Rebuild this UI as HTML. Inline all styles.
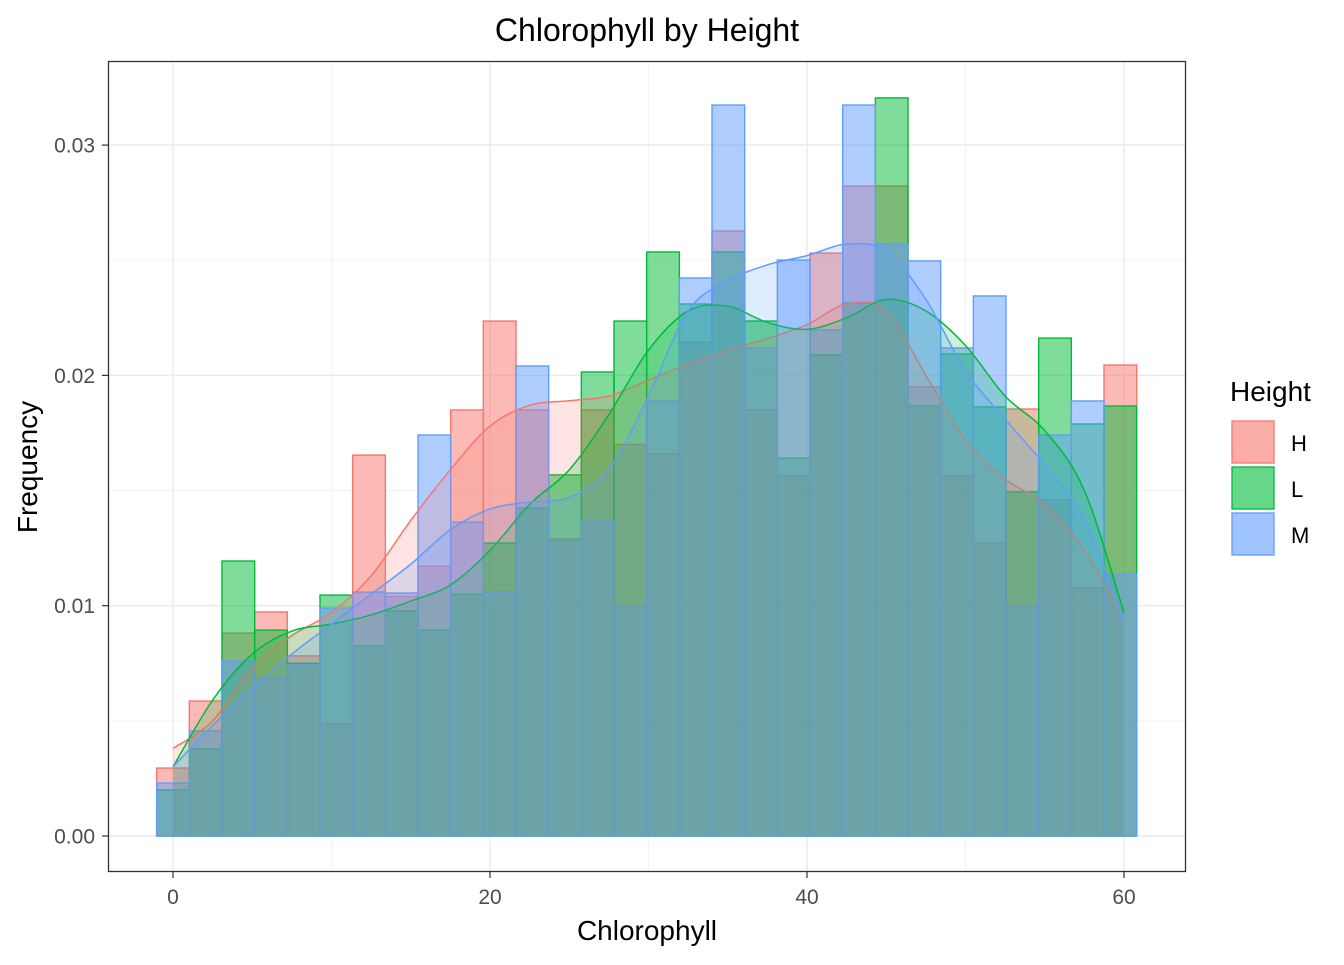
<!DOCTYPE html>
<html><head><meta charset="utf-8"><style>
body{margin:0;background:#fff;}
svg text{font-family:"Liberation Sans",Arial,sans-serif;}
</style></head><body>
<svg id="chart" width="1344" height="960" xmlns="http://www.w3.org/2000/svg">
<rect width="1344" height="960" fill="#fff"/>
<text x="647" y="41" font-size="32" text-anchor="middle" fill="#000">Chlorophyll by Height</text>
<g id="grid"></g>
<g id="bars"></g>
<g id="dens"></g>
<rect x="108.5" y="61.5" width="1077" height="810" fill="none" stroke="#333" stroke-width="1.3"/>
<g id="axes"></g>
<text x="647" y="940" font-size="28" text-anchor="middle" fill="#000">Chlorophyll</text>
<text transform="translate(37,467) rotate(-90)" font-size="28" text-anchor="middle" fill="#000">Frequency</text>
<g>
<text x="1230" y="401" font-size="28" fill="#000">Height</text>
<g><rect x="1232" y="421" width="42" height="42" fill="#F8766D" fill-opacity="0.6" stroke="#F8766D" stroke-width="1.3"/><text x="1291" y="451" font-size="22" fill="#000">H</text></g>
<g><rect x="1232" y="467" width="42" height="42" fill="#00BA38" fill-opacity="0.6" stroke="#00BA38" stroke-width="1.3"/><text x="1291" y="497" font-size="22" fill="#000">L</text></g>
<g><rect x="1232" y="513" width="42" height="42" fill="#619CFF" fill-opacity="0.6" stroke="#619CFF" stroke-width="1.3"/><text x="1291" y="543" font-size="22" fill="#000">M</text></g>
</g>
</svg>
<script>
const groups = ["H","L","M"];
const binStart = -1.03;
const binWidth = 2.061;
const histH = [0.00295,0.00586,0.00881,0.00973,0.00782,0.00486,0.01654,0.0104,0.01172,0.0185,0.02236,0.0185,0.0129,0.0185,0.017,0.01659,0.02145,0.02627,0.0185,0.01563,0.02531,0.02822,0.02822,0.0195,0.01563,0.01272,0.01854,0.01459,0.01077,0.02045];
const histL = [0.0020,0.00378,0.01194,0.00894,0.0075,0.01046,0.00825,0.00977,0.00894,0.0105,0.01272,0.01424,0.01568,0.02015,0.02236,0.02536,0.0231,0.02536,0.02236,0.01641,0.02089,0.02314,0.03205,0.01867,0.02093,0.01863,0.01494,0.02162,0.01789,0.01867];
const histM = [0.0023,0.00456,0.0076,0.00686,0.00743,0.0099,0.01059,0.01055,0.01741,0.01363,0.0106,0.02041,0.0128,0.01368,0.00994,0.01889,0.02423,0.03174,0.02119,0.02501,0.02197,0.03174,0.0257,0.02497,0.02119,0.02345,0.00994,0.01741,0.01889,0.01138];
const densX = [0,2.5,5,7.5,10,12.5,15,17.5,20,22.5,25,27.5,30,32.5,35,37.5,40,42.5,45,47.5,50,52.5,55,57.5,60];
const densH = [0.0038,0.0050,0.0073,0.0087,0.0097,0.0113,0.0137,0.0159,0.0178,0.0187,0.0189,0.0191,0.0198,0.0205,0.0211,0.0216,0.0222,0.0231,0.0228,0.0200,0.0172,0.0155,0.0144,0.0124,0.0094];
const densL = [0.0030,0.0059,0.0079,0.0089,0.0092,0.0096,0.0102,0.0109,0.0124,0.0144,0.0159,0.0183,0.0211,0.0228,0.0230,0.0223,0.0220,0.0225,0.0233,0.0228,0.0213,0.0191,0.0176,0.0150,0.0097];
const densM = [0.0030,0.0048,0.0064,0.0079,0.0092,0.0105,0.0118,0.0133,0.0142,0.0145,0.0147,0.0159,0.0191,0.0228,0.0241,0.0248,0.0252,0.0257,0.0254,0.0233,0.0202,0.0181,0.0161,0.0137,0.0093];
const xTicks = [0,20,40,60];
const yTicks = [0,0.01,0.02,0.03];
const yTickLabels = ["0.00","0.01","0.02","0.03"];
const colors = {H:"#F8766D",L:"#00BA38",M:"#619CFF"};

const NS="http://www.w3.org/2000/svg";
function sx(v){return 173+(v)*15.85;}
function sy(v){return 836-v*23030;}
function mk(tag,attrs,parent){const e=document.createElementNS(NS,tag);for(const k in attrs)e.setAttribute(k,attrs[k]);parent.appendChild(e);return e;}
const grid=document.getElementById('grid'),bars=document.getElementById('bars'),dens=document.getElementById('dens'),axes=document.getElementById('axes');
mk('rect',{x:108,y:61,width:1078,height:811,fill:'#fff'},grid);
for(let i=0;i<xTicks.length-1;i++){const v=(xTicks[i]+xTicks[i+1])/2;const l=mk('line',{x1:sx(v),x2:sx(v),y1:61,y2:872,stroke:'#f0f0f0','stroke-width':0.8},grid);}
for(let i=0;i<yTicks.length-1;i++){const v=(yTicks[i]+yTicks[i+1])/2;const l=mk('line',{x1:108,x2:1186,y1:sy(v),y2:sy(v),stroke:'#f0f0f0','stroke-width':0.8},grid);}
xTicks.forEach(v=>{const l=mk('line',{x1:sx(v),x2:sx(v),y1:61,y2:872,stroke:'#ebebeb','stroke-width':1.5},grid);
 const t=mk('line',{x1:sx(v),x2:sx(v),y1:872,y2:878,stroke:'#333','stroke-width':1.2},axes);
 const tx=mk('text',{x:sx(v),y:904,'font-size':21,'text-anchor':'middle',fill:'#4d4d4d'},axes);tx.textContent=v;});
yTicks.forEach((v,i)=>{const l=mk('line',{x1:108,x2:1186,y1:sy(v),y2:sy(v),stroke:'#ebebeb','stroke-width':1.5},grid);
 const t=mk('line',{x1:102,x2:108,y1:sy(v),y2:sy(v),stroke:'#333','stroke-width':1.2},axes);
 const tx=mk('text',{x:95,y:sy(v)+7.5,'font-size':21,'text-anchor':'end',fill:'#4d4d4d'},axes);tx.textContent=yTickLabels[i];});
const hist={H:histH,L:histL,M:histM};
groups.forEach(g=>{hist[g].forEach((v,i)=>{const x0=sx(binStart+i*binWidth),x1=sx(binStart+(i+1)*binWidth);
 const r=mk('rect',{x:x0,y:sy(v),width:x1-x0,height:sy(0)-sy(v),fill:colors[g],'fill-opacity':0.5,stroke:colors[g],'stroke-width':1.4},bars);
 
 });});
function smooth(xs,ys){const p=xs.map((x,i)=>[sx(x),sy(ys[i])]);let d='M'+p[0][0]+','+p[0][1];
 for(let i=0;i<p.length-1;i++){const p0=p[Math.max(0,i-1)],p1=p[i],p2=p[i+1],p3=p[Math.min(p.length-1,i+2)];
 const c1=[p1[0]+(p2[0]-p0[0])/6,p1[1]+(p2[1]-p0[1])/6],c2=[p2[0]-(p3[0]-p1[0])/6,p2[1]-(p3[1]-p1[1])/6];
 d+=' C'+c1[0]+','+c1[1]+' '+c2[0]+','+c2[1]+' '+p2[0]+','+p2[1];}return d;}
const densMap={H:densH,L:densL,M:densM};
groups.forEach(g=>{const d=smooth(densX,densMap[g]);const x0=sx(densX[0]),x1=sx(densX[densX.length-1]);
 const a=mk('path',{d:d+' L'+x1+','+sy(0)+' L'+x0+','+sy(0)+' Z',fill:colors[g],'fill-opacity':0.2,stroke:'none'},dens);
 
 
 const l=mk('path',{d:d,fill:'none',stroke:colors[g],'stroke-width':1.5},dens);
 
 });
</script>
</body></html>
